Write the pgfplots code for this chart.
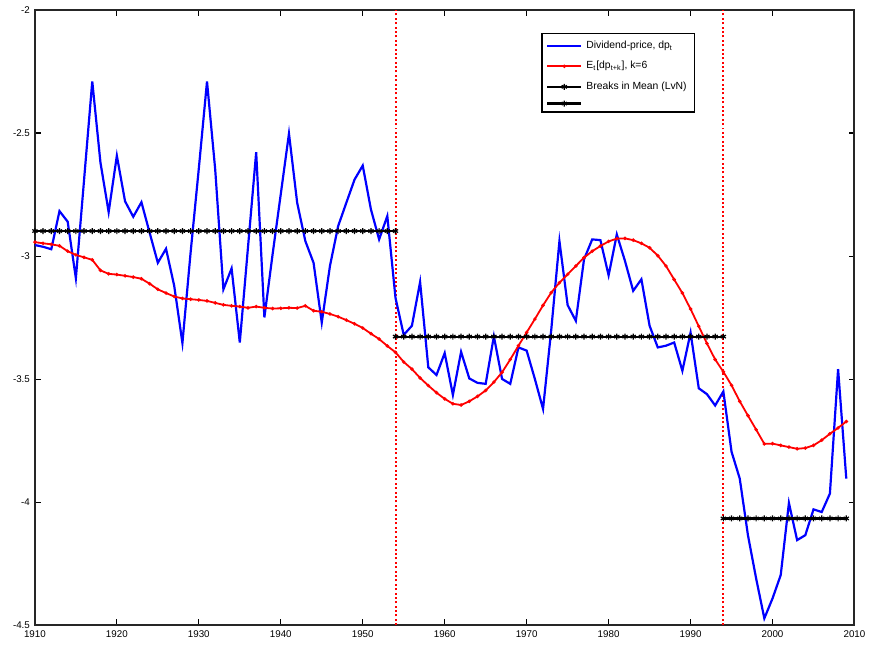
\documentclass[border=0pt]{standalone}
\usepackage{fontspec}
\setmainfont{Liberation Sans}
\usepackage{pgfplots}
\usepackage{pgfplotstable}
\pgfplotsset{compat=1.18}

% year, dividend-price ratio, expected dp (k=6)
\pgfplotstableread{
year dp edp
1910 -2.955 -2.943
1911 -2.962 -2.948
1912 -2.972 -2.952
1913 -2.817 -2.958
1914 -2.860 -2.980
1915 -3.090 -2.995
1916 -2.690 -3.005
1917 -2.290 -3.015
1918 -2.620 -3.058
1919 -2.821 -3.072
1920 -2.592 -3.075
1921 -2.777 -3.080
1922 -2.840 -3.085
1923 -2.781 -3.092
1924 -2.905 -3.112
1925 -3.027 -3.135
1926 -2.970 -3.150
1927 -3.121 -3.164
1928 -3.353 -3.172
1929 -2.985 -3.175
1930 -2.644 -3.178
1931 -2.290 -3.182
1932 -2.648 -3.190
1933 -3.135 -3.198
1934 -3.050 -3.202
1935 -3.351 -3.205
1936 -2.964 -3.210
1937 -2.578 -3.205
1938 -3.249 -3.210
1939 -2.993 -3.213
1940 -2.748 -3.212
1941 -2.502 -3.210
1942 -2.783 -3.211
1943 -2.939 -3.202
1944 -3.027 -3.222
1945 -3.270 -3.226
1946 -3.040 -3.235
1947 -2.878 -3.246
1948 -2.783 -3.260
1949 -2.689 -3.275
1950 -2.632 -3.292
1951 -2.810 -3.315
1952 -2.932 -3.337
1953 -2.837 -3.365
1954 -3.170 -3.391
1955 -3.320 -3.430
1956 -3.283 -3.459
1957 -3.105 -3.495
1958 -3.452 -3.526
1959 -3.483 -3.555
1960 -3.394 -3.580
1961 -3.564 -3.600
1962 -3.389 -3.605
1963 -3.497 -3.590
1964 -3.515 -3.570
1965 -3.519 -3.546
1966 -3.326 -3.512
1967 -3.499 -3.472
1968 -3.519 -3.420
1969 -3.371 -3.364
1970 -3.384 -3.310
1971 -3.499 -3.256
1972 -3.621 -3.200
1973 -3.300 -3.148
1974 -2.939 -3.108
1975 -3.199 -3.074
1976 -3.263 -3.040
1977 -3.013 -3.006
1978 -2.932 -2.980
1979 -2.935 -2.959
1980 -3.078 -2.940
1981 -2.912 -2.929
1982 -3.020 -2.928
1983 -3.141 -2.935
1984 -3.094 -2.948
1985 -3.283 -2.966
1986 -3.371 -2.998
1987 -3.364 -3.040
1988 -3.351 -3.095
1989 -3.466 -3.150
1990 -3.311 -3.215
1991 -3.537 -3.285
1992 -3.561 -3.355
1993 -3.607 -3.420
1994 -3.550 -3.470
1995 -3.795 -3.525
1996 -3.904 -3.590
1997 -4.134 -3.648
1998 -4.310 -3.705
1999 -4.472 -3.763
2000 -4.391 -3.762
2001 -4.296 -3.769
2002 -4.003 -3.776
2003 -4.154 -3.783
2004 -4.134 -3.780
2005 -4.029 -3.769
2006 -4.040 -3.748
2007 -3.965 -3.722
2008 -3.459 -3.698
2009 -3.904 -3.672
}\dpdata

\begin{document}
\begin{tikzpicture}
\begin{axis}[
    scale only axis,
    width=411pt, height=308.5pt,
    xmin=1910, xmax=2010,
    ymin=-4.5, ymax=-2,
    xtick={1910,1920,...,2010},
    ytick={-4.5,-4,-3.5,-3,-2.5,-2},
    tick align=inside,
    major tick length=3pt,
    tick style={black, line width=0.6pt},
    axis line style={black!85, line width=1pt},
    xticklabel style={font=\fontsize{4.9}{5}\selectfont, yshift=1pt},
    yticklabel style={font=\fontsize{4.9}{5}\selectfont, xshift=1pt},
    /pgf/number format/1000 sep={},
    /pgf/number format/assume math mode=true,
    legend cell align=left,
    legend style={
        at={(0.618,0.963)}, anchor=north west,
        draw=black, line width=0.8pt,
        font=\fontsize{5.2}{6}\selectfont,
        inner xsep=2pt, inner ysep=1.5pt,
        row sep=1pt,
    },
    legend image code/.code={
        \draw[mark repeat=2, mark phase=2, #1]
            plot coordinates {(0cm,0cm) (0.3cm,0cm) (0.6cm,0cm)};
    },
]
% break dates
\addplot[red, line width=1pt, dash pattern=on 1pt off 1.2pt, forget plot] coordinates {(1954,-4.5) (1954,-2)};
\addplot[red, line width=1pt, dash pattern=on 1pt off 1.2pt, forget plot] coordinates {(1994,-4.5) (1994,-2)};
% dividend-price ratio
\addplot[blue, line width=1.1pt, mark=none] table[x=year, y=dp] {\dpdata};
\addlegendentry{Dividend-price, dp\textsubscript{t}}
% expected dp, k=6
\addplot[red, line width=0.9pt, mark=*, mark size=0.35pt] table[x=year, y=edp] {\dpdata};
\addlegendentry{E\textsubscript{t}[dp\textsubscript{t+k}], k=6}
% breaks in mean (LvN)
\addplot[black, line width=1.1pt, mark=asterisk, mark size=1.5pt, mark options={line width=0.6pt}] coordinates {
    (1910,-2.898) (1911,-2.898) (1912,-2.898) (1913,-2.898) (1914,-2.898)
    (1915,-2.898) (1916,-2.898) (1917,-2.898) (1918,-2.898) (1919,-2.898)
    (1920,-2.898) (1921,-2.898) (1922,-2.898) (1923,-2.898) (1924,-2.898)
    (1925,-2.898) (1926,-2.898) (1927,-2.898) (1928,-2.898) (1929,-2.898)
    (1930,-2.898) (1931,-2.898) (1932,-2.898) (1933,-2.898) (1934,-2.898)
    (1935,-2.898) (1936,-2.898) (1937,-2.898) (1938,-2.898) (1939,-2.898)
    (1940,-2.898) (1941,-2.898) (1942,-2.898) (1943,-2.898) (1944,-2.898)
    (1945,-2.898) (1946,-2.898) (1947,-2.898) (1948,-2.898) (1949,-2.898)
    (1950,-2.898) (1951,-2.898) (1952,-2.898) (1953,-2.898) (1954,-2.898)
};
\addlegendentry{Breaks in Mean (LvN)}
\addplot[black, line width=1.1pt, mark=asterisk, mark size=1.5pt, mark options={line width=0.6pt}] coordinates {
    (1954,-3.327) (1955,-3.327) (1956,-3.327) (1957,-3.327) (1958,-3.327)
    (1959,-3.327) (1960,-3.327) (1961,-3.327) (1962,-3.327) (1963,-3.327)
    (1964,-3.327) (1965,-3.327) (1966,-3.327) (1967,-3.327) (1968,-3.327)
    (1969,-3.327) (1970,-3.327) (1971,-3.327) (1972,-3.327) (1973,-3.327)
    (1974,-3.327) (1975,-3.327) (1976,-3.327) (1977,-3.327) (1978,-3.327)
    (1979,-3.327) (1980,-3.327) (1981,-3.327) (1982,-3.327) (1983,-3.327)
    (1984,-3.327) (1985,-3.327) (1986,-3.327) (1987,-3.327) (1988,-3.327)
    (1989,-3.327) (1990,-3.327) (1991,-3.327) (1992,-3.327) (1993,-3.327)
    (1994,-3.327)
};
\addlegendentry{}
\addplot[black, line width=1.1pt, mark=asterisk, mark size=1.5pt, mark options={line width=0.6pt}, forget plot] coordinates {
    (1994,-4.066) (1995,-4.066) (1996,-4.066) (1997,-4.066) (1998,-4.066)
    (1999,-4.066) (2000,-4.066) (2001,-4.066) (2002,-4.066) (2003,-4.066)
    (2004,-4.066) (2005,-4.066) (2006,-4.066) (2007,-4.066) (2008,-4.066)
    (2009,-4.066)
};
\coordinate (sw) at (rel axis cs:0,0);
\coordinate (ne) at (rel axis cs:1,1);
\end{axis}
\path ([shift={(-17.5pt,-11.5pt)}]sw) rectangle ([shift={(7.5pt,5pt)}]ne);
\end{tikzpicture}
\end{document}
